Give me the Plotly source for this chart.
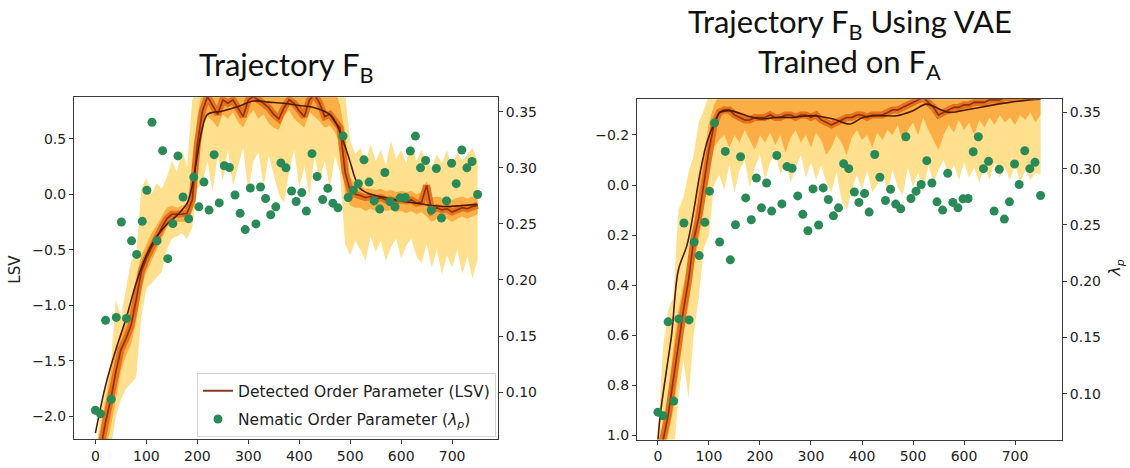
import plotly.graph_objects as go

# ---------------- data ----------------
BAND_X = list(range(0, 760, 10))

# Nematic order parameter (lambda_p), same series in both panels
NEM_X = [0, 10, 20, 31, 41, 51, 61, 71, 81, 92, 101, 111, 121, 132, 142, 152, 162, 172, 183, 193,
         203, 213, 223, 233, 243, 253, 263, 274, 284, 294, 304, 315, 324, 334, 344, 354, 364, 374, 385, 394,
         405, 414, 425, 435, 446, 456, 466, 476, 486, 496, 506, 516, 527, 537, 547, 558, 568, 578, 588, 598,
         608, 618, 628, 638, 648, 659, 669, 679, 689, 699, 708, 719, 729, 739, 750]
NEM_Y = [0.0838, 0.0806, 0.1640, 0.0936, 0.1666, 0.2517, 0.1657, 0.2349, 0.2228, 0.2523,
         0.2800, 0.3406, 0.2349, 0.3153, 0.2190, 0.2502, 0.3106, 0.2740, 0.2546, 0.2917,
         0.2652, 0.2873, 0.2623, 0.3117, 0.2687, 0.3018, 0.3003, 0.2758, 0.2594, 0.2449,
         0.2820, 0.2500, 0.2829, 0.2726, 0.2581, 0.2652, 0.3044, 0.3000, 0.2793, 0.2700,
         0.2779, 0.2614, 0.3126, 0.2923, 0.2717, 0.2817, 0.2685, 0.2643, 0.3283, 0.2735,
         0.2800, 0.2859, 0.3071, 0.2873, 0.2705, 0.2632, 0.2958, 0.2700, 0.2652, 0.2732,
         0.2735, 0.3150, 0.3283, 0.3000, 0.3065, 0.2623, 0.2994, 0.2552, 0.2705, 0.3041,
         0.2859, 0.3159, 0.3000, 0.3056, 0.2762]

# ---- Left panel: Trajectory F_B (LSV) ----
L_DETAIL = [-2.35, -2.3, -2.05, -1.85, -1.6, -1.4, -1.3, -1.18, -0.95, -0.7,
            -0.58, -0.48, -0.4, -0.3, -0.22, -0.18, -0.18, -0.18, -0.17, -0.05,
            0.45, 0.75, 0.88, 0.8, 0.72, 0.85, 0.82, 0.85, 0.78, 0.7,
            0.85, 0.88, 0.85, 0.82, 0.78, 0.72, 0.68, 0.78, 0.85, 0.82,
            0.75, 0.7, 0.85, 0.9, 0.82, 0.7, 0.72, 0.65, 0.6, 0.2,
            0.03, 0.0, -0.01, -0.03, -0.02, -0.04, -0.03, -0.05, -0.05, -0.06,
            -0.05, -0.06, -0.05, -0.08, -0.07, 0.08, -0.15, -0.12, -0.14, -0.13,
            -0.16, -0.14, -0.12, -0.13, -0.11, -0.1]
L_OR_LO = [-2.4, -2.4, -2.3, -2.1, -1.85, -1.6, -1.45, -1.35, -1.15, -0.85,
           -0.7, -0.6, -0.5, -0.4, -0.3, -0.25, -0.25, -0.25, -0.25, -0.15,
           0.2, 0.6, 0.7, 0.66, 0.6, 0.72, 0.68, 0.74, 0.65, 0.6,
           0.7, 0.76, 0.68, 0.72, 0.64, 0.6, 0.58, 0.7, 0.76, 0.68,
           0.64, 0.6, 0.74, 0.7, 0.66, 0.6, 0.62, 0.56, 0.45, 0.0,
           -0.1, -0.12, -0.12, -0.15, -0.13, -0.15, -0.12, -0.15, -0.14, -0.16,
           -0.15, -0.17, -0.15, -0.18, -0.16, -0.2, -0.25, -0.22, -0.24, -0.22,
           -0.25, -0.22, -0.2, -0.22, -0.2, -0.18]
L_OR_HI = [-2.3, -2.1, -1.85, -1.6, -1.4, -1.25, -1.15, -0.95, -0.75, -0.55,
           -0.45, -0.35, -0.28, -0.2, -0.12, -0.1, -0.12, -0.1, -0.08, 0.2,
           0.7, 0.95, 0.95, 0.95, 0.95, 0.95, 0.95, 0.95, 0.95, 0.95,
           0.95, 0.95, 0.95, 0.95, 0.95, 0.95, 0.95, 0.95, 0.95, 0.95,
           0.95, 0.95, 0.95, 0.95, 0.95, 0.95, 0.95, 0.95, 0.8, 0.55,
           0.15, 0.1, 0.08, 0.05, 0.05, 0.04, 0.05, 0.03, 0.04, 0.02,
           0.03, 0.02, 0.03, 0.0, 0.02, 0.12, -0.03, -0.02, -0.03, -0.02,
           -0.05, -0.03, -0.02, -0.04, -0.02, -0.02]
L_YL_LO = [-2.4, -2.4, -2.4, -2.3, -2.0, -1.85, -1.75, -1.7, -1.65, -1.1,
           -0.85, -0.8, -0.75, -0.7, -0.5, -0.4, -0.38, -0.35, -0.4, -0.3,
           0.05, 0.1, 0.3, 0.02, 0.35, 0.12, 0.4, 0.08, 0.25, 0.42,
           0.02, 0.3, 0.38, 0.06, 0.35, 0.18, 0.0, -0.08, 0.2, 0.4,
           0.06, 0.25, -0.02, 0.35, 0.12, 0.3, 0.05, 0.35, 0.2, -0.45,
           -0.55, -0.42, -0.5, -0.6, -0.38, -0.52, -0.42, -0.6, -0.48, -0.4,
           -0.58, -0.46, -0.4, -0.56, -0.62, -0.45, -0.66, -0.5, -0.72, -0.55,
           -0.66, -0.5, -0.72, -0.56, -0.76, -0.58]
L_YL_HI = [-2.35, -1.95, -1.75, -1.55, -0.95, -1.1, -0.85, -0.6, -0.55, 0.05,
           0.15, 0.0, 0.1, 0.05, 0.15, 0.3, 0.2, 0.4, 0.25, 0.85,
           0.95, 0.95, 0.95, 0.95, 0.95, 0.95, 0.95, 0.95, 0.95, 0.95,
           0.95, 0.95, 0.95, 0.95, 0.95, 0.95, 0.95, 0.95, 0.95, 0.95,
           0.95, 0.95, 0.95, 0.95, 0.95, 0.95, 0.95, 0.95, 0.95, 0.9,
           0.48, 0.36, 0.42, 0.28, 0.45, 0.3, 0.4, 0.26, 0.48, 0.32,
           0.4, 0.28, 0.46, 0.3, 0.4, 0.3, 0.24, 0.36, 0.28, 0.4,
           0.22, 0.38, 0.3, 0.36, 0.42, 0.3]
L_SMOOTH_X = [0, 20, 40, 60, 80, 100, 120, 140, 160, 180, 190, 200, 210, 220, 250, 280, 310, 340,
              370, 400, 430, 460, 470, 480, 490, 500, 510, 520, 540, 570, 600, 630, 660, 690, 720, 750]
L_SMOOTH_Y = [-2.15, -1.72, -1.4, -1.12, -0.8, -0.55, -0.38, -0.27, -0.19, -0.08, 0.08, 0.35, 0.6,
              0.72, 0.75, 0.79, 0.84, 0.83, 0.82, 0.8, 0.78, 0.72, 0.66, 0.56, 0.43, 0.29, 0.14, 0.05,
              0.0, -0.03, -0.06, -0.08, -0.1, -0.11, -0.1, -0.09]

# ---- Right panel: Trajectory F_B using VAE trained on F_A (LSV, reversed axis) ----
R_DETAIL = [1.1, 1.02, 0.92, 0.78, 0.62, 0.5, 0.38, 0.22, 0.13, 0.0,
            -0.14, -0.24, -0.29, -0.3, -0.3, -0.28, -0.27, -0.26, -0.26, -0.27,
            -0.27, -0.27, -0.28, -0.27, -0.27, -0.28, -0.28, -0.27, -0.28, -0.28,
            -0.27, -0.28, -0.26, -0.25, -0.24, -0.25, -0.26, -0.27, -0.27, -0.28,
            -0.28, -0.27, -0.28, -0.28, -0.28, -0.29, -0.3, -0.3, -0.31, -0.32,
            -0.33, -0.34, -0.35, -0.33, -0.31, -0.28, -0.29, -0.3, -0.31, -0.31,
            -0.32, -0.32, -0.33, -0.33, -0.33, -0.34, -0.34, -0.34, -0.35, -0.35,
            -0.35, -0.35, -0.35, -0.36, -0.36, -0.36]
R_OR_LO = [1.05, 0.95, 0.85, 0.65, 0.5, 0.4, 0.3, 0.15, 0.0, -0.12,
           -0.25, -0.32, -0.36, -0.36, -0.36, -0.36, -0.36, -0.36, -0.36, -0.36,
           -0.36, -0.36, -0.36, -0.36, -0.36, -0.36, -0.36, -0.36, -0.36, -0.36,
           -0.36, -0.36, -0.36, -0.36, -0.36, -0.36, -0.36, -0.36, -0.36, -0.36,
           -0.36, -0.36, -0.36, -0.36, -0.36, -0.36, -0.36, -0.36, -0.36, -0.36,
           -0.36, -0.36, -0.36, -0.36, -0.36, -0.36, -0.36, -0.36, -0.36, -0.36,
           -0.36, -0.36, -0.36, -0.36, -0.36, -0.36, -0.36, -0.36, -0.36, -0.36,
           -0.36, -0.36, -0.36, -0.36, -0.36, -0.36]
R_OR_HI = [1.2, 1.1, 1.0, 0.9, 0.75, 0.6, 0.48, 0.32, 0.22, 0.08,
           -0.06, -0.15, -0.18, -0.2, -0.15, -0.2, -0.17, -0.22, -0.18, -0.14,
           -0.2, -0.17, -0.21, -0.16, -0.2, -0.13, -0.19, -0.22, -0.17, -0.2,
           -0.15, -0.21, -0.18, -0.12, -0.15, -0.2, -0.17, -0.12, -0.19, -0.22,
           -0.18, -0.2, -0.15, -0.21, -0.18, -0.22, -0.2, -0.24, -0.17, -0.22,
           -0.25, -0.2, -0.27, -0.22, -0.18, -0.14, -0.2, -0.24, -0.21, -0.26,
           -0.22, -0.25, -0.2, -0.26, -0.23, -0.27, -0.24, -0.28, -0.25, -0.27,
           -0.24, -0.28, -0.26, -0.29, -0.25, -0.28]
R_YL_LO = [1.0, 0.65, 0.5, 0.45, 0.1, 0.05, -0.05, -0.12, -0.25, -0.3,
           -0.36, -0.36, -0.36, -0.36, -0.36, -0.36, -0.36, -0.36, -0.36, -0.36,
           -0.36, -0.36, -0.36, -0.36, -0.36, -0.36, -0.36, -0.36, -0.36, -0.36,
           -0.36, -0.36, -0.36, -0.36, -0.36, -0.36, -0.36, -0.36, -0.36, -0.36,
           -0.36, -0.36, -0.36, -0.36, -0.36, -0.36, -0.36, -0.36, -0.36, -0.36,
           -0.36, -0.36, -0.36, -0.36, -0.36, -0.36, -0.36, -0.36, -0.36, -0.36,
           -0.36, -0.36, -0.36, -0.36, -0.36, -0.36, -0.36, -0.36, -0.36, -0.36,
           -0.36, -0.36, -0.36, -0.36, -0.36, -0.36]
R_YL_HI = [1.1, 1.1, 1.1, 1.1, 0.85, 0.7, 0.85, 0.6, 0.45, 0.25,
           0.2, 0.0, -0.04, 0.02, -0.08, 0.03, -0.06, -0.1, 0.01, -0.07,
           -0.12, -0.02, -0.09, -0.13, -0.04, -0.1, -0.01, -0.07, -0.12, -0.03,
           -0.09, -0.02, -0.08, -0.01, 0.03, -0.05, 0.06, 0.1, 0.02, -0.04,
           0.02, -0.06, 0.03, 0.0, -0.05, 0.03, -0.06, 0.01, 0.04, -0.07,
           0.01, -0.05, 0.03, -0.08, -0.01, -0.06, -0.1, -0.03, -0.08, -0.02,
           -0.09, -0.03, -0.07, -0.01, -0.08, -0.02, -0.09, -0.03, -0.07, -0.02,
           -0.08, -0.01, -0.06, -0.02, -0.05, -0.04]
R_SMOOTH_X = [0, 5, 15, 27, 40, 57, 70, 83, 96, 109, 122, 141, 174, 200, 232, 265, 304, 344, 376,
              402, 435, 468, 500, 526, 552, 572, 611, 650, 689, 729, 750]
R_SMOOTH_Y = [1.02, 0.91, 0.765, 0.594, 0.34, 0.24, 0.105, -0.053, -0.17, -0.24, -0.29, -0.297,
              -0.277, -0.264, -0.27, -0.27, -0.277, -0.264, -0.244, -0.27, -0.277, -0.277, -0.297,
              -0.323, -0.303, -0.29, -0.303, -0.317, -0.33, -0.34, -0.343]

X_TICKS = [0, 100, 200, 300, 400, 500, 600, 700]
L_Y_TICKS = [-2.0, -1.5, -1.0, -0.5, 0.0, 0.5]
R_Y_TICKS = [-0.2, 0.0, 0.2, 0.4, 0.6, 0.8, 1.0]
LAMBDA_TICKS = [0.10, 0.15, 0.20, 0.25, 0.30, 0.35]

# ---------------- style ----------------
YELLOW = "#FEE08E"
ORANGE = "#FBAE45"
DARK_ORANGE = "#E5711B"
BROWN = "#8E2F0B"
SMOOTH = "#4F1A06"
LEGEND_BROWN = "#8B3A22"
GREEN = "#2A8A57"
AXIS_COL = "#3A3A3A"
TICK_FONT = dict(family="DejaVu Sans", size=14, color="#222222")

fig = go.Figure()


def add_band(x, lo, hi, color, xa, ya):
    fig.add_trace(go.Scatter(x=x, y=lo, mode="lines", line=dict(width=0, color=color),
                             xaxis=xa, yaxis=ya, showlegend=False, hoverinfo="skip"))
    fig.add_trace(go.Scatter(x=x, y=hi, mode="lines", line=dict(width=0, color=color),
                             fill="tonexty", fillcolor=color,
                             xaxis=xa, yaxis=ya, showlegend=False, hoverinfo="skip"))


def add_panel(xa, ya, ya2, yl_lo, yl_hi, or_lo, or_hi, detail, sx, sy, legend):
    add_band(BAND_X, yl_lo, yl_hi, YELLOW, xa, ya)
    add_band(BAND_X, or_lo, or_hi, ORANGE, xa, ya)
    fig.add_trace(go.Scatter(x=BAND_X, y=detail, mode="lines",
                             line=dict(width=7, color=DARK_ORANGE),
                             xaxis=xa, yaxis=ya, showlegend=False, hoverinfo="skip"))
    fig.add_trace(go.Scatter(x=BAND_X, y=detail, mode="lines",
                             line=dict(width=1.6, color=BROWN),
                             xaxis=xa, yaxis=ya, showlegend=False, hoverinfo="skip"))
    fig.add_trace(go.Scatter(x=sx, y=sy, mode="lines", line=dict(width=1.6, color=SMOOTH, shape="spline"),
                             xaxis=xa, yaxis=ya, showlegend=False))
    if legend:
        fig.add_trace(go.Scatter(x=[None], y=[None], mode="lines",
                                 line=dict(width=2, color=LEGEND_BROWN),
                                 name="Detected Order Parameter (LSV)",
                                 legendgroup="a", legendrank=1,
                                 xaxis=xa, yaxis=ya, showlegend=True))
    fig.add_trace(go.Scatter(x=NEM_X, y=NEM_Y, mode="markers",
                             marker=dict(size=9, color=GREEN),
                             name="Nematic Order Parameter (<i>λ</i><sub><i>p</i></sub>)",
                             legendgroup="b", legendrank=2,
                             xaxis=xa, yaxis=ya2, showlegend=legend))


add_panel("x", "y", "y2", L_YL_LO, L_YL_HI, L_OR_LO, L_OR_HI, L_DETAIL, L_SMOOTH_X, L_SMOOTH_Y, True)
add_panel("x2", "y3", "y4", R_YL_LO, R_YL_HI, R_OR_LO, R_OR_HI, R_DETAIL, R_SMOOTH_X, R_SMOOTH_Y, False)

ax_common = dict(showgrid=False, zeroline=False, showline=True, linecolor=AXIS_COL, linewidth=1,
                 ticks="outside", ticklen=4, tickwidth=1, tickcolor=AXIS_COL, tickfont=TICK_FONT)

L_DOM_X = [74 / 1130, 498 / 1130]
R_DOM_X = [637 / 1130, 1062 / 1130]
L_DOM_Y = [(468 - 443) / 468, (468 - 98) / 468]
R_DOM_Y = [(468 - 443.3) / 468, (468 - 100) / 468]

fig.update_layout(
    width=1130, height=468,
    margin=dict(l=0, r=0, t=0, b=0),
    paper_bgcolor="white", plot_bgcolor="white",
    xaxis=dict(domain=L_DOM_X, range=[-42, 790], anchor="y", tickvals=X_TICKS, mirror=True, **ax_common),
    yaxis=dict(domain=L_DOM_Y, range=[-2.205, 0.875], anchor="x", tickvals=L_Y_TICKS, tickformat=".1f",
               **ax_common),
    yaxis2=dict(overlaying="y", side="right", anchor="x", range=[0.058, 0.363], tickvals=LAMBDA_TICKS,
                tickformat=".2f", **ax_common),
    xaxis2=dict(domain=R_DOM_X, range=[-41, 792], anchor="y3", tickvals=X_TICKS, mirror=True, **ax_common),
    yaxis3=dict(domain=R_DOM_Y, range=[1.016, -0.343], anchor="x2", tickvals=R_Y_TICKS, tickformat=".1f",
                **ax_common),
    yaxis4=dict(overlaying="y3", side="right", anchor="x2", range=[0.0595, 0.3617], tickvals=LAMBDA_TICKS,
                tickformat=".2f", **ax_common),
    legend=dict(x=496 / 1130, xanchor="right", y=(468 - 441) / 468, yanchor="bottom",
                bgcolor="white", bordercolor="#D5D5D5", borderwidth=1,
                traceorder="grouped", tracegroupgap=5,
                font=dict(family="DejaVu Sans", size=15.5, color="#222222")),
    showlegend=True,
)

TITLE_FONT = dict(family="Lato", size=31, color="#111111")
fig.add_annotation(text="Trajectory F<sub>B</sub>", x=286 / 1130, y=(468 - 67) / 468, xref="paper", yref="paper",
                   showarrow=False, xanchor="center", yanchor="middle", font=TITLE_FONT)
fig.add_annotation(text="Trajectory F<sub>B</sub> Using VAE", x=850 / 1130, y=(468 - 24) / 468, xref="paper",
                   yref="paper", showarrow=False, xanchor="center", yanchor="middle", font=TITLE_FONT)
fig.add_annotation(text="Trained on F<sub>A</sub>", x=850 / 1130, y=(468 - 64) / 468, xref="paper",
                   yref="paper", showarrow=False, xanchor="center", yanchor="middle", font=TITLE_FONT)
fig.add_annotation(text="LSV", x=15 / 1130, y=(468 - 272) / 468, xref="paper", yref="paper", showarrow=False,
                   textangle=-90, xanchor="center", yanchor="middle",
                   font=dict(family="DejaVu Sans", size=15, color="#222222"))
fig.add_annotation(text="<i>λ</i><sub><i>p</i></sub>", x=1116 / 1130, y=(468 - 270) / 468, xref="paper",
                   yref="paper", showarrow=False, textangle=-90, xanchor="center", yanchor="middle",
                   font=dict(family="DejaVu Sans", size=16, color="#222222"))

fig.write_html("out.html")
